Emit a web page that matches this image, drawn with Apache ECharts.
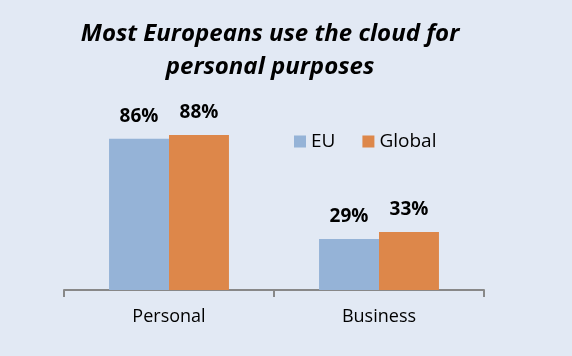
<!DOCTYPE html>
<html><head><meta charset="utf-8">
<script src="https://cdn.jsdelivr.net/npm/echarts@6/dist/echarts.min.js"></script>
<style>html,body{margin:0;padding:0;background:#e2e9f4}#c{width:572px;height:356px}</style>
</head><body><div id="c"></div>
<script>
const categories = ['Personal', 'Business'];
const euValues = [86, 29];
const globalValues = [88, 33];
const seriesNames = ['EU', 'Global'];

const chart = echarts.init(document.getElementById('c'));
const font = "'Open Sans', 'Liberation Sans', sans-serif";
chart.setOption({
  backgroundColor: '#e2e9f4',
  animation: false,
  title: {
    text: 'Most Europeans use the cloud for\npersonal purposes',
    left: 270, top: 18, textAlign: 'center', padding: 0,
    textStyle: {fontFamily: font, fontSize: 24, fontWeight: 'bold', fontStyle: 'italic', color: '#000', lineHeight: 33}
  },
  legend: {
    data: seriesNames, left: 294, top: 132, padding: 0, itemWidth: 12, itemHeight: 12, itemGap: 27,
    icon: 'rect',
    textStyle: {fontFamily: font, fontSize: 19, color: '#000'}
  },
  grid: {left: 64, right: 88, top: 114, bottom: 66},
  xAxis: {
    type: 'category', data: categories,
    axisLine: {lineStyle: {color: '#888', width: 2}},
    axisTick: {show: true, length: 7, lineStyle: {color: '#888', width: 2}},
    axisLabel: {fontFamily: font, fontSize: 18, color: '#000', margin: 18}
  },
  yAxis: {type: 'value', min: 0, max: 100, show: false, splitLine: {show: false}},
  series: [
    {name: seriesNames[0], type: 'bar', data: euValues, barGap: 0, barCategoryGap: '42.9%',
     itemStyle: {color: '#95b3d7'},
     label: {show: true, position: 'top', distance: 13, formatter: '{c}%', fontFamily: font, fontSize: 19, fontWeight: 'bold', color: '#000'}},
    {name: seriesNames[1], type: 'bar', data: globalValues, barGap: 0, barCategoryGap: '42.9%',
     itemStyle: {color: '#dd874a'},
     label: {show: true, position: 'top', distance: 13, formatter: '{c}%', fontFamily: font, fontSize: 19, fontWeight: 'bold', color: '#000'}}
  ]
});
</script></body></html>
